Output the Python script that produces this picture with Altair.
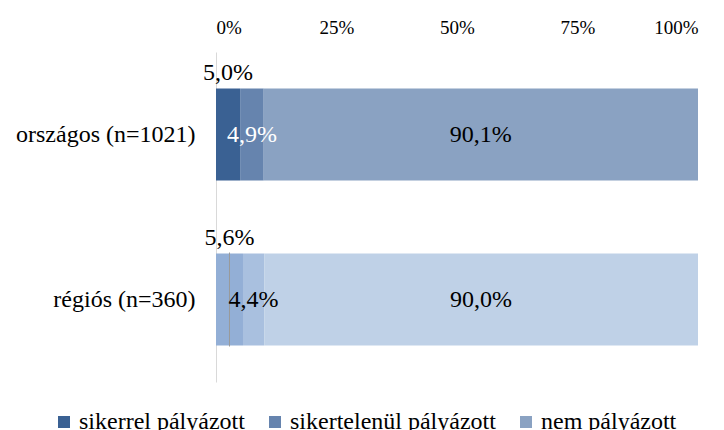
import altair as alt
import pandas as pd

categories = ["országos (n=1021)", "régiós (n=360)"]
series = ["sikerrel pályázott", "sikertelenül pályázott", "nem pályázott"]
values_orszagos = [5.0, 4.9, 90.1]
values_regios = [5.6, 4.4, 90.0]
x_ticks = [0, 25, 50, 75, 100]

colors_row1 = ["#3A6193", "#6684AE", "#8AA2C2"]
colors_row2 = ["#93AFD6", "#A9C0DF", "#BFD1E7"]

rows = []
for cat, vals in zip(categories, [values_orszagos, values_regios]):
    for i, (s, v) in enumerate(zip(series, vals)):
        rows.append({"cat": cat, "series": s, "order": i, "value": v})
df = pd.DataFrame(rows)

FONT = "Liberation Serif"

base = alt.Chart(df).transform_stack(
    stack="value", groupby=["cat"], as_=["start", "end"],
    sort=[alt.SortField("order", order="ascending")]
).transform_calculate(
    mid="(datum.start + datum.end) / 2",
    label="replace(format(datum.value, '.1f'), '.', ',') + '%'"
)

x_scale = alt.Scale(domain=[0, 100], nice=False, zero=True)
y_scale = alt.Scale(domain=categories, paddingInner=0.442, paddingOuter=0.221)

x_axis = alt.Axis(orient="top", values=x_ticks, labelExpr="datum.value + '%'",
                  domain=False, ticks=False, tickSize=0, grid=False,
                  labelFont=FONT, labelFontSize=19, labelColor="#000000",
                  labelPadding=19, labelBaseline="alphabetic", title=None)
y_axis = alt.Axis(domain=True, domainColor="#D9D9D9", ticks=False, grid=False,
                  labelFont=FONT, labelFontSize=24, labelColor="#000000",
                  labelPadding=21, labelLimit=0, title=None)

bars1 = base.transform_filter(alt.datum.cat == categories[0]).mark_bar().encode(
    x=alt.X("start:Q", scale=x_scale, axis=x_axis),
    x2="end:Q",
    y=alt.Y("cat:N", scale=y_scale, axis=y_axis, sort=categories),
    color=alt.Color("series:N", scale=alt.Scale(domain=series, range=colors_row1),
                    legend=alt.Legend(orient="none", legendX=-164, legendY=358,
                                      direction="horizontal", title=None,
                                      symbolType="square", symbolSize=144,
                                      symbolStrokeWidth=0,
                                      labelFont=FONT, labelFontSize=24,
                                      labelColor="#000000", labelOffset=3,
                                      labelLimit=0, columnPadding=18)),
)

bars2 = base.transform_filter(alt.datum.cat == categories[1]).mark_bar().encode(
    x=alt.X("start:Q", scale=x_scale, axis=x_axis),
    x2="end:Q",
    y=alt.Y("cat:N", scale=y_scale, axis=y_axis, sort=categories),
    color=alt.Color("series:N", scale=alt.Scale(domain=series, range=colors_row2),
                    legend=None),
)

leader = base.transform_filter(
    (alt.datum.cat == categories[1]) & (alt.datum.order == 0)
).mark_tick(orient="vertical", size=94, thickness=1, color="#9A9A9A", opacity=1).encode(
    x=alt.X("mid:Q", scale=x_scale),
    y=alt.Y("cat:N", scale=y_scale, sort=categories),
)

labels_above = base.transform_filter(alt.datum.order == 0).mark_text(
    font=FONT, fontSize=24, baseline="alphabetic", align="center", dy=-55
).encode(
    x=alt.X("mid:Q", scale=x_scale),
    y=alt.Y("cat:N", scale=y_scale, sort=categories),
    text="label:N",
    color=alt.value("#000000"),
)

labels_inside = base.transform_filter(alt.datum.order > 0).mark_text(
    font=FONT, fontSize=24, baseline="middle", align="center"
).encode(
    x=alt.X("mid:Q", scale=x_scale),
    y=alt.Y("cat:N", scale=y_scale, sort=categories),
    text="label:N",
    color=alt.condition(
        (alt.datum.cat == categories[0]) & (alt.datum.order == 1),
        alt.value("#FFFFFF"), alt.value("#000000")),
)

chart = alt.layer(bars1, bars2, leader, labels_above, labels_inside).resolve_scale(
    color="independent"
).properties(
    width=482, height=330,
    autosize=alt.AutoSizeParams(type="none"),
    padding={"left": 208, "top": 44, "right": 18, "bottom": 48},
    background="#FFFFFF",
).configure_view(strokeWidth=0)

chart.save("out.html", embed_options={"renderer": "svg", "actions": False})
